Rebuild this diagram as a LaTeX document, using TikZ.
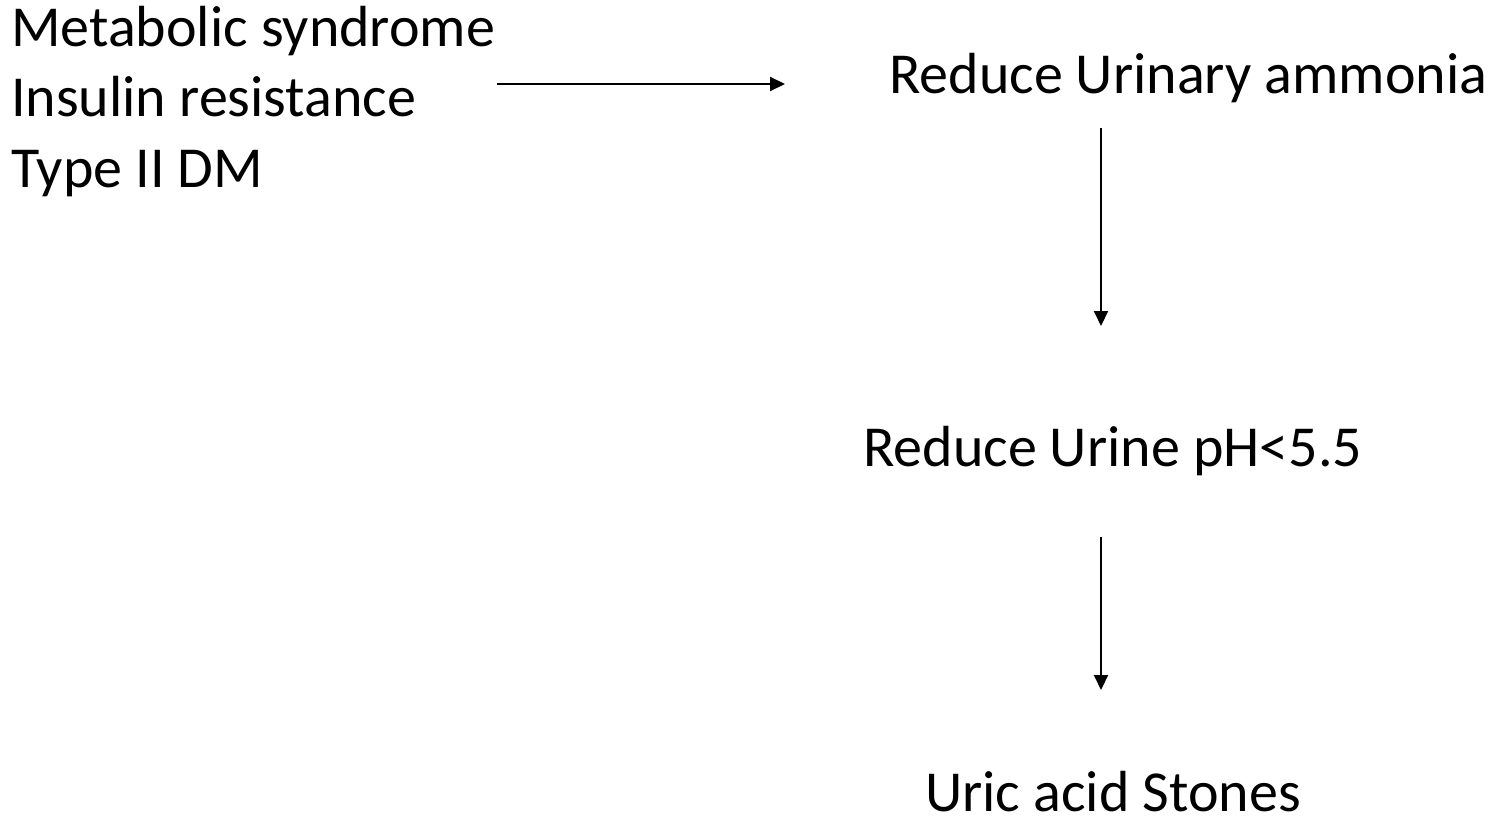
\documentclass[tikz,border=0pt]{standalone}
\usepackage{fontspec}
\setmainfont{Carlito}
\usetikzlibrary{arrows.meta}
\tikzset{
  lbl/.style={anchor=base west, inner sep=0pt, font=\fontsize{58}{70}\selectfont},
  flow/.style={line width=2pt, -{Triangle[length=15pt,width=14pt]}}
}
\begin{document}
\begin{tikzpicture}[x=1pt,y=-1pt]
\useasboundingbox (0,0) rectangle (1502,816);
\node[lbl] (ms) at (11,47) {Metabolic syndrome};
\node[lbl] (ir) at (11,117) {Insulin resistance};
\node[lbl] (dm) at (11,187) {Type II DM};
\node[lbl] (ua) at (889,93) {Reduce Urinary ammonia};
\node[lbl] (ph) at (863,466) {Reduce Urine pH<5.5};
\node[lbl] (us) at (925,811) {Uric acid Stones};
\coordinate (h1) at (497,84);
\coordinate (h2) at (785,84);
\coordinate (v1) at (1101,128);
\coordinate (v2) at (1101,326);
\coordinate (v3) at (1101,537);
\coordinate (v4) at (1101,690);
\draw[flow] (h1) -- (h2);
\draw[flow] (v1) -- (v2);
\draw[flow] (v3) -- (v4);
\end{tikzpicture}
\end{document}
